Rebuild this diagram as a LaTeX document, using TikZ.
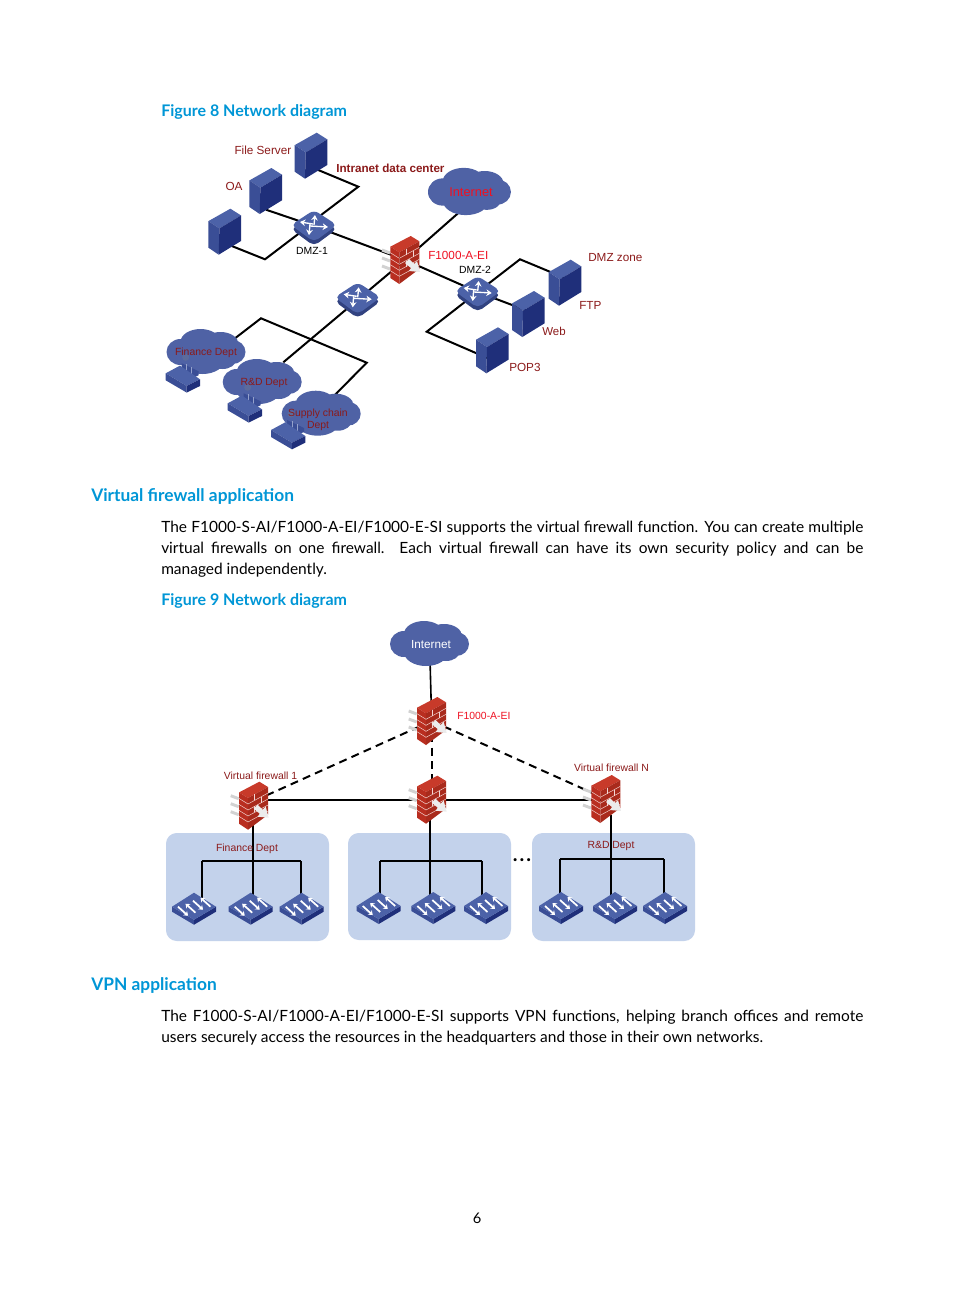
\documentclass[tikz,border=0pt]{standalone}
\usepackage{fontspec}
\usepackage{xcolor}
\usetikzlibrary{arrows.meta}
\setmainfont{Lato}
\newfontfamily\arialfont{Liberation Sans}
\definecolor{hpblue}{HTML}{0096D6}
\definecolor{labelred}{HTML}{8B1A1A}
\definecolor{brightred}{HTML}{EE1122}
\definecolor{cloudblue}{HTML}{4F62A5}
\definecolor{paneblue}{HTML}{C3D2EB}
\definecolor{devlight}{HTML}{4C62A8}
\definecolor{devmid}{HTML}{3A4E96}
\definecolor{devdark}{HTML}{1F2F7A}
\definecolor{fwtop}{HTML}{C83A2A}
\definecolor{fwleft}{HTML}{B92E20}
\definecolor{fwright}{HTML}{A92A1C}
\tikzset{
    heading/.style={anchor=base west, inner sep=0pt, text=hpblue, font=\bfseries},
    bodytext/.style={anchor=north west, inner sep=0pt, text width=526.5pt, align=justify, font=\fontsize{11.6}{15.75}\selectfont},
    devlabel/.style={inner sep=0pt, text=labelred, font=\arialfont\fontsize{8.8}{10}\selectfont},
    smalllabel/.style={inner sep=0pt, text=labelred, font=\arialfont\fontsize{7.8}{9}\selectfont, align=center},
    link/.style={line width=1.5pt, black},
    dashlink/.style={line width=1.5pt, black, dash pattern=on 6pt off 4pt},
    server/.pic={
        \fill[devlight](5.7, -23)--(16.3, -16.3)--(-5.3, -3.3)--(-16.3, -10.6)--cycle;
        \fill[devmid](-16.3, -10.6)--(-5.3, -3.3)--(-6, 23)--(-16.3, 16)--cycle;
        \fill[devdark](-5.3, -3.3)--(16.3, -16.3)--(16.3, 9.3)--(-6, 23)--cycle;
    },
    firewall/.pic={
        % grey slats behind the wall
        \foreach \k in {-8, 0, 8}{
            \draw[line width=2.2pt, gray!35](-23, \k-2)--(-15, \k+1);
        }
        \fill[fwtop](5.7, -24)--(14.3, -18.7)--(-5.7, -7.7)--(-14.7, -13.3)--cycle;
        \fill[fwleft](-14.7, -13.3)--(-5.7, -7.7)--(-5.7, 24)--(-14.7, 18)--cycle;
        \fill[fwright](-5.7, -7.7)--(14.3, -18.7)--(14.3, 9)--(-5.7, 24)--cycle;
        \foreach \k in {1, 2, 3, 4}{
            \draw[white!80!fwtop, line width=0.35pt](-5.7, -7.7+6*\k)--(14.3, -18.7+6*\k);
            \draw[white!80!fwtop, line width=0.35pt](-14.7, -13.3+6*\k)--(-5.7, -7.7+6*\k);
        }
        \foreach \k in {0, 2}{
            \draw[white!80!fwtop, line width=0.35pt](1, -11.4+6*\k)--(1, -5.4+6*\k);
            \draw[white!80!fwtop, line width=0.35pt](8, -15.2+6*\k+6)--(8, -9.2+6*\k+6);
        }
        \fill[gray!15](0, 3)--(4, -1)--(9, 4)--(12, 1)--(15, 12)--(4, 11)--(6, 8)--cycle;
    },
    router/.pic={
        \fill[devmid!85!black, rounded corners=4pt](-23, 3)--(0, -12)--(23, 3)--(0, 20)--cycle;
        \fill[devlight, rounded corners=4pt](-23, -1)--(0, -16)--(23, -1)--(0, 16)--cycle;
        \draw[white, line width=1pt, -{Stealth[length=4pt, width=5pt]}](-1, -2)--(-14, -4);
        \draw[white, line width=1pt, -{Stealth[length=4pt, width=5pt]}](-4, 0)--(14, 1);
        \draw[white, line width=1pt, -{Stealth[length=4pt, width=5pt]}](0, -1)--(1, -11);
        \draw[white, line width=1pt, -{Stealth[length=4pt, width=5pt]}](-4, -2)--(-5, 9);
    },
    lswitch/.pic={
        \fill[devmid](-22, 0)--(0, 13)--(0, 18)--(-22, 5)--cycle;
        \fill[devdark](22, 0)--(0, 13)--(0, 18)--(22, 5)--cycle;
        \fill[devlight](-22, 0)--(0, -14)--(22, 0)--(0, 13)--cycle;
        \foreach \dx/\dy in {-11/4.5, 4/-1.5}{
            \draw[white, line width=1.3pt, -{Stealth[length=3pt, width=4.5pt]}]({\dx-5}, {\dy-4.5})--({\dx+5}, {\dy+4.5});
        }
        \foreach \dx/\dy in {-3.5/1.5, 11.5/-4.5}{
            \draw[white, line width=1.3pt, -{Stealth[length=3pt, width=4.5pt]}]({\dx+5}, {\dy+4.5})--({\dx-5}, {\dy-4.5});
        }
    },
    host/.pic={
        % seated person behind the desk
        \fill[devmid](-1, -15)--(16, -7)--(16, -3)--(4, 2)--(-1, -6)--cycle;
        \fill[devlight!70!gray](3, -21) circle (3.5);
        \draw[devlight!60!white, line width=0.6pt](4, -14)--(4, -5)(9, -11)--(9, -3);
        \fill[devlight](-17, -5)--(-2.7, -12.7)--(17.3, 1)--(4, 7.7)--cycle;
        \fill[devmid](-17, -5)--(4, 7.7)--(4, 14.3)--(-17, 2)--cycle;
        \fill[devdark](4, 7.7)--(17.3, 1)--(17.3, 7.7)--(4, 14.3)--cycle;
    },
    netcloud/.pic={
        \fill[cloudblue](0, 0) ellipse [x radius=33, y radius=18]
            (-26, 0) ellipse [x radius=14, y radius=13]
            (-6, -10) ellipse [x radius=20, y radius=13]
            (14, -8) ellipse [x radius=18, y radius=12]
            (26, 0) ellipse [x radius=13, y radius=12]
            (-4, 8) ellipse [x radius=22, y radius=14]
            (16, 7) ellipse [x radius=14, y radius=10];
    }
}

\begin{document}
\begin{tikzpicture}[x=0.75pt, y=-0.75pt]
    \useasboundingbox(0, 0) rectangle (954, 1296);

    %page text
    \node[heading, font=\bfseries\fontsize{12}{15}\selectfont] (figeight) at (161, 116){Figure 8 Network diagram};
    \node[heading, font=\bfseries\fontsize{13}{16}\selectfont] (virtualhead) at (91, 501){Virtual firewall application};
    \node[bodytext] (virtualtext) at (161, 521){The F1000-S-AI/F1000-A-EI/F1000-E-SI supports the virtual firewall function. You can create multiple\linebreak
        virtual firewalls on one firewall. Each virtual firewall can have its own security policy and can be\linebreak
        managed independently.};
    \node[heading, font=\bfseries\fontsize{12}{15}\selectfont] (fignine) at (161, 605){Figure 9 Network diagram};
    \node[heading, font=\bfseries\fontsize{13}{16}\selectfont] (vpnhead) at (91, 990){VPN application};
    \node[bodytext] (vpntext) at (161, 1010){The F1000-S-AI/F1000-A-EI/F1000-E-SI supports VPN functions, helping branch offices and remote\linebreak
        users securely access the resources in the headquarters and those in their own networks.};
    \node[inner sep=0pt, font=\fontsize{11}{13}\selectfont] (pagenum) at (477, 1218){6};

    %figure 8 points
    \coordinate (fileport) at (311, 167);
    \coordinate (oaport) at (266, 209.7);
    \coordinate (thirdport) at (231.7, 246);
    \coordinate (bendfile) at (358.3, 186.7);
    \coordinate (bendthird) at (265, 259.3);
    \coordinate (dmzone) at (314, 226);
    \coordinate (dmzonea) at (314, 220.4);
    \coordinate (dmzoneb) at (314, 222);
    \coordinate (fwmain) at (405, 260);
    \coordinate (inetport) at (464, 208);
    \coordinate (dmztwo) at (477.7, 292);
    \coordinate (innerport) at (283.3, 362.3);
    \coordinate (bendfin) at (261, 318.3);
    \coordinate (bendsup) at (366.7, 362.7);
    \coordinate (finport) at (225, 346);
    \coordinate (support) at (325, 405);
    \coordinate (bendftp) at (520, 259.3);
    \coordinate (ftpport) at (565, 278);
    \coordinate (webport) at (528, 311);
    \coordinate (bendpop) at (426.7, 331.7);
    \coordinate (popport) at (492, 360);

    \draw[link](fileport)--(bendfile)--(dmzonea);
    \draw[link](oaport)--(dmzone);
    \draw[link](thirdport)--(bendthird)--(dmzoneb);
    \draw[link](dmzone)--(fwmain);
    \draw[link](inetport)--(fwmain);
    \draw[link](fwmain)--(innerport);
    \draw[link](finport)--(bendfin)--(bendsup)--(support);
    \draw[link](fwmain)--(dmztwo);
    \draw[link](dmztwo)--(bendftp)--(ftpport);
    \draw[link](dmztwo)--(webport);
    \draw[link](dmztwo)--(bendpop)--(popport);

    \pic at (311, 155.7){server};
    \pic at (265.7, 191){server};
    \pic at (224.7, 231.7){server};
    \pic at (565, 282.7){server};
    \pic at (528.3, 314){server};
    \pic at (492.3, 350.3){server};
    \pic at (dmzone){router};
    \pic at (357.7, 298.3){router};
    \pic at (dmztwo){router};
    \pic at (fwmain){firewall};
    \pic[scale=1.05] at (470, 192){netcloud};
    \pic at (206.5, 352){netcloud};
    \pic at (262.7, 382){netcloud};
    \pic at (321.7, 413.7){netcloud};
    \pic at (182.7, 378.3){host};
    \pic at (244.7, 408.3){host};
    \pic at (288, 435){host};

    \node[devlabel, anchor=east] (filelabel) at (291.5, 150){File Server};
    \node[devlabel] (oalabel) at (234, 186){OA};
    \node[devlabel, font=\arialfont\bfseries\fontsize{8.75}{10}\selectfont, anchor=west] (dclabel) at (336, 168){Intranet data center};
    \node[devlabel, text=brightred, font=\arialfont\fontsize{9.6}{11}\selectfont] (inetlabel) at (471, 192){Internet};
    \node[smalllabel, text=black] (dmzonelabel) at (312, 251){DMZ-1};
    \node[smalllabel, text=black] (dmztwolabel) at (475, 270){DMZ-2};
    \node[devlabel, text=brightred, anchor=west] (fwlabel) at (428, 255.5){F1000-A-EI};
    \node[devlabel, anchor=west] (zonelabel) at (588, 258){DMZ zone};
    \node[devlabel, anchor=west] (ftplabel) at (579, 305){FTP};
    \node[smalllabel, font=\arialfont\fontsize{8.6}{10}\selectfont, anchor=west] (weblabel) at (542, 331){Web};
    \node[devlabel, anchor=west] (poplabel) at (509, 367){POP3};
    \node[smalllabel] (finlabel) at (206, 352.5){Finance Dept};
    \node[smalllabel] (rdlabel) at (264, 383){R\&D Dept};
    \node[smalllabel] (suplabel) at (318, 419.5){Supply chain\\Dept};

    %figure 9 panes
    \fill[paneblue, rounded corners=8pt](166, 833) rectangle (329, 941);
    \fill[paneblue, rounded corners=8pt](348, 833) rectangle (511, 940);
    \fill[paneblue, rounded corners=8pt](532, 833) rectangle (695, 941);

    %figure 9 points
    \coordinate (inettop) at (430, 660);
    \coordinate (fwtopnode) at (431.7, 721);
    \coordinate (fwone) at (253.7, 805.7);
    \coordinate (fwtwo) at (431.7, 799.7);
    \coordinate (fwlast) at (606, 799);
    \coordinate (fwoneport) at (254, 801);
    \coordinate (fwonerow) at (253.7, 800);
    \coordinate (fwlastrow) at (606, 800);
    \coordinate (fwtworow) at (431.7, 800);
    \coordinate (busoneleft) at (201.7, 861);
    \coordinate (busonemid) at (253.3, 861);
    \coordinate (busoneright) at (301, 861);
    \coordinate (bustwoleft) at (380, 861);
    \coordinate (bustwomid) at (430, 861);
    \coordinate (bustworight) at (482, 861);
    \coordinate (busthreeleft) at (560, 859);
    \coordinate (busthreemid) at (610.5, 859);
    \coordinate (busthreeright) at (664, 859);

    \draw[link, line width=1.2pt](inettop)--(fwtopnode);
    \draw[dashlink](fwtopnode)--(fwoneport);
    \draw[dashlink](fwtopnode)--(fwlast);
    \draw[dashlink](fwtopnode)--(fwtwo);
    \draw[link](fwonerow)--(fwtworow)--(fwlastrow);
    \foreach \name/\panelx in {one/253.3, two/430, three/610.5}{
        \draw[link](\panelx, 815)--(bus\name mid)--(\panelx, 900);
        \draw[link](bus\name left)--(bus\name right);
        \draw[link](bus\name left)--++(0, 40);
        \draw[link](bus\name right)--++(0, 40);
    }

    \foreach \swx/\swy in {194/906.7, 250.7/906.7, 301.7/906.7, 378.7/906, 433.3/906, 486/906, 561/906, 615/906, 665/906}{
        \pic at (\swx, \swy){lswitch};
    }
    \pic at (fwtopnode){firewall};
    \pic at (fwone){firewall};
    \pic at (fwtwo){firewall};
    \pic at (fwlast){firewall};
    \pic at (430, 644){netcloud};

    \node[devlabel, text=white] (inetwhite) at (431, 644.5){Internet};
    \node[smalllabel, text=brightred, anchor=west] (fwtoplabel) at (457, 716){F1000-A-EI};
    \node[smalllabel] (vfonelabel) at (260.5, 776){Virtual firewall 1};
    \node[smalllabel] (vflastlabel) at (611.5, 768){Virtual firewall N};
    \node[smalllabel] (finpane) at (247, 848.5){Finance Dept};
    \node[smalllabel] (rdpane) at (611, 845.5){R\&D Dept};
    \node[inner sep=0pt, font=\bfseries\fontsize{15}{15}\selectfont] (panedots) at (522, 860){.\kern1.5pt.\kern1.5pt.};
\end{tikzpicture}
\end{document}
